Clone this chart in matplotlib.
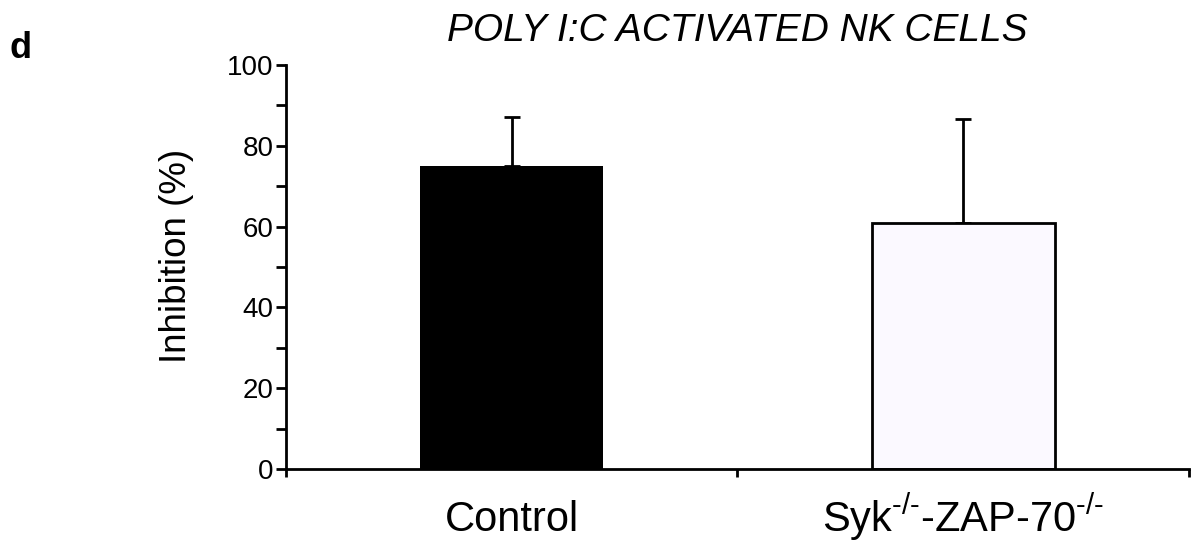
import numpy as np
import matplotlib
matplotlib.use("Agg")
import matplotlib.pyplot as plt

plt.rcParams['font.family'] = ['Liberation Sans', 'DejaVu Sans']
plt.rcParams['mathtext.fontset'] = 'custom'
plt.rcParams['mathtext.rm'] = 'Liberation Sans'
plt.rcParams['mathtext.it'] = 'Liberation Sans:italic'
plt.rcParams['mathtext.bf'] = 'Liberation Sans:bold'

# data
groups = ["Control", r"Syk$^{\text{-/-}}$-ZAP-70$^{\text{-/-}}$"]
inhibition = [75.0, 60.9]
sd_upper = [12.2, 25.7]
bar_colors = ["#000000", "#FBF9FF"]
edge_colors = ["#000000", "#000000"]

fig = plt.figure(figsize=(11.91, 5.43), dpi=100)
ax = fig.add_axes([0.2401, 0.1363, 0.7582, 0.744])

x = np.array([0.5, 1.5])
ax.bar(x, inhibition, width=0.405, color=bar_colors, edgecolor=edge_colors,
       linewidth=[0, 2.0], zorder=2)
ax.errorbar(x, inhibition, yerr=[np.zeros(2), sd_upper], fmt="none",
            ecolor="black", elinewidth=2.0, capsize=6, capthick=2.0, zorder=1)

ax.set_xlim(0, 2)
ax.set_ylim(0, 100)
ax.set_yticks(np.arange(0, 101, 20))
ax.set_yticks(np.arange(10, 100, 20), minor=True)
ax.set_xticks([0, 1, 2])
ax.set_xticklabels([])
ax.set_xticks(x, minor=True)
ax.set_xticklabels(groups, minor=True, fontsize=30, va="baseline")
ax.tick_params(axis="x", which="minor", length=0, pad=45)
ax.tick_params(axis="x", which="major", length=6, width=2.0, direction="out")
ax.tick_params(axis="y", which="both", length=7, width=2.0, direction="out",
               labelsize=20, pad=2)

for s in ["top", "right"]:
    ax.spines[s].set_visible(False)
for s in ["left", "bottom"]:
    ax.spines[s].set_linewidth(2.0)

ax.set_ylabel("Inhibition (%)", fontsize=26.5)
ax.yaxis.set_label_coords(-0.102, 0.527)
ax.set_title("POLY I:C ACTIVATED NK CELLS", fontsize=28, style="italic", pad=17)
fig.text(0.008, 0.91, "d", fontsize=26, fontweight="bold", va="center")

fig.savefig("out.png", dpi=100)
